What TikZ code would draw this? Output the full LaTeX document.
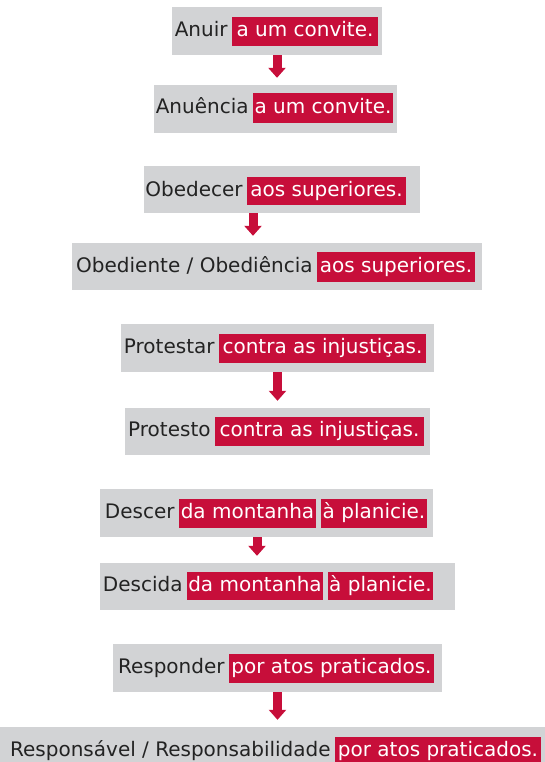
\documentclass[tikz,border=0pt]{standalone}
\usepackage{fontspec}
\setmainfont{DejaVu Sans}
\usetikzlibrary{arrows.meta}
\definecolor{crim}{RGB}{199,14,58}
\definecolor{boxgray}{RGB}{210,211,213}
\definecolor{ink}{RGB}{35,35,35}
\begin{document}
\begin{tikzpicture}[x=1pt,y=-1pt,
  graybox/.style={fill=boxgray,draw=none,inner sep=0pt},
  redtxt/.style={fill=crim,text=white,inner sep=0pt,font=\fontsize{20}{23}\selectfont,text height=14.5pt,text depth=4pt},
  blacktxt/.style={text=ink,inner sep=0pt,anchor=east,font=\fontsize{20}{23}\selectfont,text height=14.5pt,text depth=4pt},
  downarrow/.style={draw=crim,line width=9pt,-{Triangle[width=17pt,length=10pt]},shorten >=7pt}]
\useasboundingbox (0,0) rectangle (545,762);
% gray boxes
\node[graybox,minimum width=210pt,minimum height=48pt] (b1) at (277,31) {};
\node[graybox,minimum width=243pt,minimum height=48pt] (b2) at (275.5,109) {};
\node[graybox,minimum width=276pt,minimum height=47pt] (b3) at (282,189.5) {};
\node[graybox,minimum width=410pt,minimum height=47pt] (b4) at (277,266.5) {};
\node[graybox,minimum width=313pt,minimum height=48pt] (b5) at (277.5,348) {};
\node[graybox,minimum width=305pt,minimum height=47pt] (b6) at (277.5,431.5) {};
\node[graybox,minimum width=333pt,minimum height=48pt] (b7) at (266.5,513) {};
\node[graybox,minimum width=355pt,minimum height=47pt] (b8) at (277.5,586.5) {};
\node[graybox,minimum width=329pt,minimum height=48pt] (b9) at (277.5,668) {};
\node[graybox,minimum width=545pt,minimum height=48pt] (b10) at (272.5,751) {};
% red highlights
\node[redtxt,minimum width=146pt,minimum height=29pt] (r1) at (305,31.5) {a um convite.};
\node[redtxt,minimum width=140pt,minimum height=30pt] (r2) at (323,108) {a um convite.};
\node[redtxt,minimum width=159pt,minimum height=28pt] (r3) at (326.5,191) {aos superiores.};
\node[redtxt,minimum width=158pt,minimum height=30pt] (r4) at (396,267) {aos superiores.};
\node[redtxt,minimum width=207pt,minimum height=29pt] (r5) at (322.5,348.5) {contra as injustiças.};
\node[redtxt,minimum width=209pt,minimum height=29pt] (r6) at (319.5,431.5) {contra as injustiças.};
\node[redtxt,minimum width=137pt,minimum height=29pt] (r7a) at (247.5,513.5) {da montanha};
\node[redtxt,minimum width=106pt,minimum height=29pt] (r7b) at (374,513.5) {à planicie.};
\node[redtxt,minimum width=136pt,minimum height=28pt] (r8a) at (255,586) {da montanha};
\node[redtxt,minimum width=105pt,minimum height=28pt] (r8b) at (380.5,586) {à planicie.};
\node[redtxt,minimum width=205pt,minimum height=29pt] (r9) at (331.5,668.5) {por atos praticados.};
\node[redtxt,minimum width=206pt,minimum height=29pt] (r10) at (438,751.5) {por atos praticados.};
% black texts
\node[blacktxt] (t1) at ([xshift=-4pt]r1.west) {Anuir};
\node[blacktxt] (t2) at ([xshift=-4pt]r2.west) {Anuência};
\node[blacktxt] (t3) at ([xshift=-4pt]r3.west) {Obedecer};
\node[blacktxt] (t4) at ([xshift=-4pt]r4.west) {Obediente / Obediência};
\node[blacktxt] (t5) at ([xshift=-4pt]r5.west) {Protestar};
\node[blacktxt] (t6) at ([xshift=-4pt]r6.west) {Protesto};
\node[blacktxt] (t7) at ([xshift=-4pt]r7a.west) {Descer};
\node[blacktxt] (t8) at ([xshift=-4pt]r8a.west) {Descida};
\node[blacktxt] (t9) at ([xshift=-4pt]r9.west) {Responder};
\node[blacktxt] (t10) at ([xshift=-4pt]r10.west) {Responsável / Responsabilidade};
% arrows
\coordinate (s1) at (b1.south);
\coordinate (s2) at ([xshift=-29pt]b3.south);
\coordinate (s3) at (b5.south);
\coordinate (s4) at ([xshift=-9.5pt]b7.south);
\coordinate (s5) at (b9.south);
\draw[downarrow] (s1) -- (s1 |- b2.north);
\draw[downarrow] (s2) -- (s2 |- b4.north);
\draw[downarrow] (s3) -- (s3 |- b6.north);
\draw[downarrow] (s4) -- (s4 |- b8.north);
\draw[downarrow] (s5) -- (s5 |- b10.north);
\end{tikzpicture}
\end{document}
